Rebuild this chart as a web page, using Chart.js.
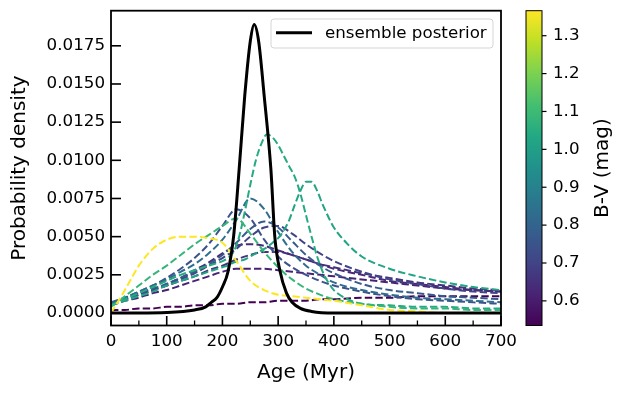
<!DOCTYPE html>
<html><head><meta charset="utf-8">
<script src="https://cdn.jsdelivr.net/npm/chart.js@4/dist/chart.umd.min.js"></script>
<style>html,body{margin:0;padding:0;background:#fff}#wrap{width:623px;height:395px}</style>
</head><body><div id="wrap"><canvas id="c" width="623" height="395"></canvas></div>
<script>
// ---------------- DATA ----------------
const xTicks = [0, 100, 200, 300, 400, 500, 600, 700];
const yTickLabels = ['0.0000','0.0025','0.0050','0.0075','0.0100','0.0125','0.0150','0.0175'];
const cbTickLabels = ['0.6','0.7','0.8','0.9','1.0','1.1','1.2','1.3'];

const agesCoarse = [0,25,50,75,100,125,150,175,200,225,250,275,300,325,350,375,400,450,500,550,600,650,700];
const agesFine = [0,25,50,75,100,125,150,175,200,210,220,230,240,250,260,270,280,290,300,310,320,330,340,350,360,370,380,390,400,425,450,500,550,600,650,700];

// ensemble posterior
const postAges = [0,50,100,150,170,180,190,200,210,220,230,240,250,257,265,275,287,294,303,315,325,340,360,400,500,700];
const postVals = [0,0,0.00003,0.0002,0.0004,0.0007,0.0010,0.0017,0.0027,0.0050,0.0094,0.0142,0.0178,0.0189,0.0178,0.0142,0.0094,0.0050,0.0028,0.0013,0.0007,0.0003,0.0001,0,0,0];

// individual star posteriors (B-V colour, ages grid, values)
const bvYellow = 1.366;
const valsYellow = [0,0.0015,0.0031,0.0042,0.0048,0.0050,0.0050,0.0049,0.0046,0.0034,0.0021,0.0015,0.0012,0.0011,0.0010,0.0009,0.0008,0.0005,0.0002,0.0001,0,0,0];

const bvG3 = 1.08;
const valsG3 = [0.0004,0.0011,0.0018,0.0025,0.0031,0.0038,0.0045,0.0051,0.0057,0.0062,0.0052,0.0040,0.0030,0.0022,0.0016,0.0012,0.0009,0.0006,0.0004,0.0003,0.0003,0.0002,0.0002];

const bvG1 = 1.04;
const valsG1 = [0.0005,0.0009,0.0013,0.0017,0.0021,0.0025,0.0028,0.0031,0.0034,0.0036,0.0040,0.0050,0.0066,0.0084,0.0100,0.0111,0.0117,0.0115,0.0110,0.0103,0.0096,0.0089,0.0078,0.0064,0.0050,0.0037,0.0027,0.0020,0.0015,0.0009,0.0006,0.0005,0.0004,0.0004,0.0003,0.0003];

const bvG2 = 1.02;
const valsG2 = [0.0005,0.0008,0.0011,0.0014,0.0018,0.0021,0.0024,0.0027,0.0030,0.0031,0.0033,0.0034,0.0035,0.0037,0.0039,0.0041,0.0043,0.0046,0.0049,0.0054,0.0061,0.0071,0.0080,0.0086,0.0086,0.0080,0.0071,0.0063,0.0056,0.0045,0.0037,0.0029,0.0024,0.0020,0.0017,0.0015];

const bvB1 = 0.83;
const valsB1 = [0.0006,0.0010,0.0014,0.0018,0.0022,0.0027,0.0032,0.0039,0.0048,0.0061,0.0075,0.0068,0.0053,0.0040,0.0031,0.0025,0.0020,0.0015,0.0012,0.0010,0.0009,0.0008,0.0007];

const bvB2 = 0.745;
const valsB2 = [0.0006,0.0010,0.0014,0.0018,0.0023,0.0029,0.0036,0.0045,0.0057,0.0068,0.0062,0.0048,0.0037,0.0030,0.0025,0.0021,0.0018,0.0014,0.0011,0.0009,0.0008,0.0007,0.0006];

const bvB3 = 0.77;
const valsB3 = [0.0007,0.0010,0.0013,0.0016,0.0019,0.0023,0.0027,0.0032,0.0038,0.0046,0.0055,0.0060,0.0056,0.0047,0.0038,0.0031,0.0026,0.0019,0.0015,0.0013,0.0011,0.0010,0.0009];

const bvB4 = 0.70;
const valsB4 = [0.0006,0.0009,0.0012,0.0015,0.0018,0.0022,0.0026,0.0031,0.0036,0.0042,0.0050,0.0056,0.0057,0.0052,0.0045,0.0039,0.0034,0.0027,0.0022,0.0019,0.0016,0.0014,0.0013];

const bvP1 = 0.635;
const valsP1 = [0.0006,0.0009,0.0012,0.0015,0.0019,0.0023,0.0028,0.0033,0.0039,0.0044,0.0045,0.0044,0.0041,0.0038,0.0035,0.0032,0.0029,0.0025,0.0021,0.0019,0.0017,0.0015,0.0014];

const bvP2 = 0.66;
const valsP2 = [0.0006,0.0009,0.0012,0.0015,0.0018,0.0021,0.0024,0.0028,0.0031,0.0035,0.0038,0.0040,0.0040,0.0038,0.0035,0.0032,0.0030,0.0026,0.0023,0.0020,0.0018,0.0016,0.0015];

const bvP3 = 0.615;
const valsP3 = [0.0005,0.0008,0.0010,0.0013,0.0015,0.0018,0.0021,0.0024,0.0027,0.0029,0.0029,0.0029,0.0028,0.0027,0.0026,0.0025,0.0024,0.0022,0.0020,0.0018,0.0016,0.0015,0.0014];

const bvP4 = 0.535;
const valsP4 = [0.0002,0.0002,0.0003,0.0003,0.0004,0.0004,0.0005,0.0005,0.0006,0.0006,0.0007,0.0007,0.0008,0.0008,0.0008,0.0009,0.0009,0.0010,0.0010,0.0011,0.0011,0.0011,0.0011];

// ---------------- STYLE ----------------
const FONT = 'DejaVu Sans';
const viridis = ['#440154','#482475','#414487','#355f8d','#2a788e','#21918c','#22a884','#44bf70','#7ad151','#bddf26','#fde725'];
const stars = [
  {bv: bvP4, ages: agesCoarse, vals: valsP4},
  {bv: bvP3, ages: agesCoarse, vals: valsP3},
  {bv: bvP2, ages: agesCoarse, vals: valsP2},
  {bv: bvP1, ages: agesCoarse, vals: valsP1},
  {bv: bvB4, ages: agesCoarse, vals: valsB4},
  {bv: bvB2, ages: agesCoarse, vals: valsB2},
  {bv: bvB3, ages: agesCoarse, vals: valsB3},
  {bv: bvB1, ages: agesCoarse, vals: valsB1},
  {bv: bvG2, ages: agesFine, vals: valsG2},
  {bv: bvG1, ages: agesFine, vals: valsG1},
  {bv: bvG3, ages: agesCoarse, vals: valsG3},
  {bv: bvYellow, ages: agesCoarse, vals: valsYellow}
];
const bvMin = Math.min(...stars.map(s => s.bv));
const bvMax = Math.max(...stars.map(s => s.bv));

function hex2rgb(h){return [parseInt(h.slice(1,3),16),parseInt(h.slice(3,5),16),parseInt(h.slice(5,7),16)];}
function viridisColor(t){
  t = Math.max(0, Math.min(1, t));
  const f = t * (viridis.length - 1), i = Math.min(Math.floor(f), viridis.length - 2), u = f - i;
  const a = hex2rgb(viridis[i]), b = hex2rgb(viridis[i+1]);
  return 'rgb(' + a.map((v,k) => Math.round(v + (b[k]-v)*u)).join(',') + ')';
}

const datasets = [{
  label: 'ensemble posterior',
  data: postAges.map((a,i) => ({x: a, y: postVals[i]})),
  borderColor: '#000', borderWidth: 3, pointRadius: 0, fill: false,
  cubicInterpolationMode: 'monotone'
}];
stars.slice().reverse().forEach(s => {
  datasets.push({
    label: 'B-V ' + s.bv,
    data: s.ages.map((a,i) => ({x: a, y: s.vals[i]})),
    borderColor: viridisColor((s.bv - bvMin) / (bvMax - bvMin)),
    borderWidth: 2, borderDash: [7.4, 3.2], pointRadius: 0, fill: false,
    cubicInterpolationMode: 'monotone'
  });
});

const noPad = (s) => { s.paddingTop = 0; s.paddingBottom = 0; s.paddingLeft = 0; s.paddingRight = 0; };

const deco = {
  id: 'deco',
  afterDraw(chart) {
    const {ctx, chartArea: a, scales: {x, y, cb}} = chart;
    ctx.save();
    ctx.strokeStyle = '#000';
    ctx.lineWidth = 1.8;
    ctx.strokeRect(a.left, a.top, a.right - a.left, a.bottom - a.top);
    const ln = (x1,y1,x2,y2) => {ctx.beginPath(); ctx.moveTo(x1,y1); ctx.lineTo(x2,y2); ctx.stroke();};
    ctx.lineWidth = 1.6;
    const xt = x.ticks.map(t => t.value);
    xt.forEach(v => { const p = x.getPixelForValue(v); ln(p, a.bottom, p, a.bottom - 9.5); });
    ctx.lineWidth = 1.3;
    for (let i = 0; i < xt.length - 1; i++) { const p = x.getPixelForValue((xt[i]+xt[i+1])/2); ln(p, a.bottom, p, a.bottom - 5); }
    ctx.lineWidth = 1.6;
    y.ticks.forEach(t => { const p = y.getPixelForValue(t.value); ln(a.left, p, a.left + 10, p); });

    // colorbar
    const cx0 = 526, cx1 = 542;
    const yTop = cb.getPixelForValue(bvMax), yBot = cb.getPixelForValue(bvMin);
    const g = ctx.createLinearGradient(0, yBot, 0, yTop);
    viridis.forEach((c,i) => g.addColorStop(i/(viridis.length-1), c));
    ctx.fillStyle = g;
    ctx.fillRect(cx0, yTop, cx1 - cx0, yBot - yTop);
    ctx.lineWidth = 1;
    ctx.strokeRect(cx0, yTop, cx1 - cx0, yBot - yTop);
    ctx.lineWidth = 1.2;
    cb.ticks.forEach(t => { const p = cb.getPixelForValue(t.value); ln(cx1, p, cx1 + 4.5, p); });
    ctx.fillStyle = '#000';
    ctx.font = '20px "' + FONT + '"';
    ctx.textAlign = 'center'; ctx.textBaseline = 'middle';
    ctx.translate(603, (yTop + yBot)/2); ctx.rotate(-Math.PI/2);
    ctx.fillText('B-V (mag)', 0, 0);
    ctx.restore();

    // legend
    ctx.save();
    const lx = 271, ly = 19, lw = 222, lh = 29, r = 3;
    ctx.beginPath();
    ctx.moveTo(lx + r, ly); ctx.lineTo(lx + lw - r, ly); ctx.quadraticCurveTo(lx + lw, ly, lx + lw, ly + r);
    ctx.lineTo(lx + lw, ly + lh - r); ctx.quadraticCurveTo(lx + lw, ly + lh, lx + lw - r, ly + lh);
    ctx.lineTo(lx + r, ly + lh); ctx.quadraticCurveTo(lx, ly + lh, lx, ly + lh - r);
    ctx.lineTo(lx, ly + r); ctx.quadraticCurveTo(lx, ly, lx + r, ly); ctx.closePath();
    ctx.fillStyle = 'rgba(255,255,255,0.8)'; ctx.fill();
    ctx.strokeStyle = '#d5d5d5'; ctx.lineWidth = 1; ctx.stroke();
    ctx.strokeStyle = '#000'; ctx.lineWidth = 3;
    ln(276, 32.7, 312, 32.7);
    ctx.fillStyle = '#000'; ctx.font = '16.7px "' + FONT + '"';
    ctx.textAlign = 'left'; ctx.textBaseline = 'middle';
    ctx.fillText(chart.data.datasets[0].label, 325, 33.5);
    ctx.restore();
  }
};

new Chart(document.getElementById('c'), {
  type: 'line',
  data: {datasets},
  options: {
    responsive: false, animation: false, devicePixelRatio: 1,
    layout: {padding: {top: 10.7, left: 0, right: 0, bottom: 0}},
    plugins: {legend: {display: false}, tooltip: {enabled: false}},
    scales: {
      x: {
        type: 'linear', position: 'bottom', min: 0, max: 700,
        grid: {display: false, drawTicks: false}, border: {display: false},
        ticks: {stepSize: 100, padding: 6, color: '#000', font: {family: FONT, size: 16.7},
          callback: (v) => xTicks.includes(v) ? String(v) : ''},
        title: {display: true, text: 'Age (Myr)', color: '#000', font: {family: FONT, size: 20}, padding: {top: 0, bottom: 10}},
        afterFit: (s) => { s.height = 69.5; noPad(s); }
      },
      y: {
        type: 'linear', position: 'left', min: -0.00082, max: 0.0198,
        grid: {display: false, drawTicks: false}, border: {display: false},
        ticks: {stepSize: 0.0025, includeBounds: false, padding: 6, color: '#000', font: {family: FONT, size: 16.7},
          callback: (v) => { const s = v.toFixed(4); return yTickLabels.includes(s) ? s : ''; }},
        title: {display: true, text: 'Probability density', color: '#000', font: {family: FONT, size: 20}, padding: {top: 8, bottom: 0}},
        afterFit: (s) => { s.width = 111; noPad(s); }
      },
      cb: {
        type: 'linear', position: 'right', min: bvMin, max: bvMax,
        grid: {display: false, drawTicks: false}, border: {display: false},
        ticks: {stepSize: 0.1, includeBounds: false, padding: 52, color: '#000', font: {family: FONT, size: 16.7},
          callback: (v) => { const s = v.toFixed(1); return cbTickLabels.includes(s) ? s : ''; }},
        afterFit: (s) => { s.width = 122; noPad(s); }
      }
    }
  },
  plugins: [deco]
});
</script></body></html>
